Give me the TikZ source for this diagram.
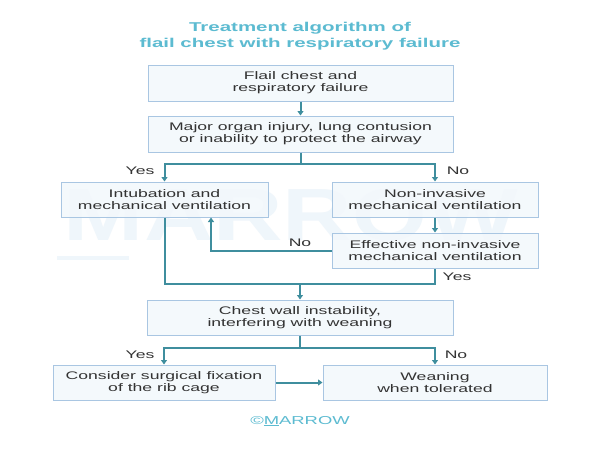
\documentclass[tikz,border=0pt]{standalone}
\usepackage{fontspec}
\setmainfont{Liberation Sans}
\newfontfamily\boxfont[FakeStretch=1.6]{Liberation Sans}
\newfontfamily\wmfont[FakeStretch=1.3]{Liberation Sans}
\usetikzlibrary{arrows.meta}
\definecolor{teal1}{HTML}{3F8E9E}
\definecolor{titlec}{HTML}{5CBBD1}
\definecolor{boxfill}{HTML}{F3F8FC}
\definecolor{boxdraw}{HTML}{A9C6E2}
\definecolor{txt}{HTML}{333333}
\definecolor{wm}{HTML}{EFF6FB}
\tikzset{
  fbox/.style={draw=boxdraw, line width=1pt, fill=boxfill, fill opacity=0.85, text opacity=1,
    text=txt, font=\boxfont\fontsize{11}{12}\selectfont, align=center,
    inner sep=0pt, minimum height=35pt},
  conn/.style={draw=teal1, line width=2pt},
  arr/.style={conn, -{Triangle[width=6pt,length=4.5pt]}},
  lab/.style={text=txt, font=\boxfont\fontsize{11}{12}\selectfont, inner sep=0pt},
}
\begin{document}
\begin{tikzpicture}[x=1pt,y=-1pt]
\useasboundingbox (0,0) rectangle (600,450);
\fill[white] (0,0) rectangle (600,450);
% watermark
\node[text=wm, font=\wmfont\fontsize{74}{74}\selectfont\bfseries, anchor=base, inner sep=0pt] (wmtext) at (291,240) {MARROW};
\fill[wm] (57,256) rectangle (129,260);
% title
\node[text=titlec, font=\boxfont\fontsize{12.8}{16}\selectfont\bfseries, align=center, inner sep=0pt] (title) at (300,36) {Treatment algorithm of\\flail chest with respiratory failure};
% boxes
\node[fbox, minimum width=305pt, minimum height=36pt] (B1) at (300.5,83) {Flail chest and\\respiratory failure};
\node[fbox, minimum width=305pt, minimum height=36pt] (B2) at (300.5,134) {Major organ injury, lung contusion\\or inability to protect the airway};
\node[fbox, minimum width=207pt] (B3) at (164.5,199.5) {Intubation and\\mechanical ventilation};
\node[fbox, minimum width=206pt] (B4) at (435,199.5) {Non-invasive\\mechanical ventilation};
\node[fbox, minimum width=206pt] (B5) at (435,250.5) {Effective non-invasive\\mechanical ventilation};
\node[fbox, minimum width=306pt] (B6) at (300,317.5) {Chest wall instability,\\interfering with weaning};
\node[fbox, minimum width=222pt] (B7) at (164,382.5) {Consider surgical fixation\\of the rib cage};
\node[fbox, minimum width=224pt] (B8) at (435,382.5) {Weaning\\when tolerated};
% junctions
\coordinate (j1) at (300.5,164);
\coordinate (j2) at (300,284);
\coordinate (j3) at (300,348);
% connectors
\draw[arr] (B1.south) -- (B2.north);
\draw[conn] (B2.south) -- (j1);
\draw[arr] (j1) -| (B3.north);
\draw[arr] (j1) -| (B4.north);
\draw[arr] (B4.south) -- (B5.north);
\draw[arr] (B5.west) -| ([xshift=46.5pt]B3.south);
\draw[conn] (B3.south) |- (B5.south |- j2) -- (B5.south);
\draw[arr] (j2) -- (B6.north);
\draw[conn] (B6.south) -- (j3);
\draw[arr] (j3) -| (B7.north);
\draw[arr] (j3) -| (B8.north);
\draw[arr] (B7.east) -- (B8.west);
% labels
\node[lab] (l1) at (140,171) {Yes};
\node[lab] (l2) at (458,171) {No};
\node[lab] (l3) at (300,243) {No};
\node[lab] (l4) at (457,277) {Yes};
\node[lab] (l5) at (140,355) {Yes};
\node[lab] (l6) at (456,355) {No};
% copyright
\node[text=titlec, font=\boxfont\fontsize{11.5}{12}\selectfont, inner sep=0pt] (copy) at (300,421) {©\underline{M}ARROW};
\end{tikzpicture}
\end{document}
